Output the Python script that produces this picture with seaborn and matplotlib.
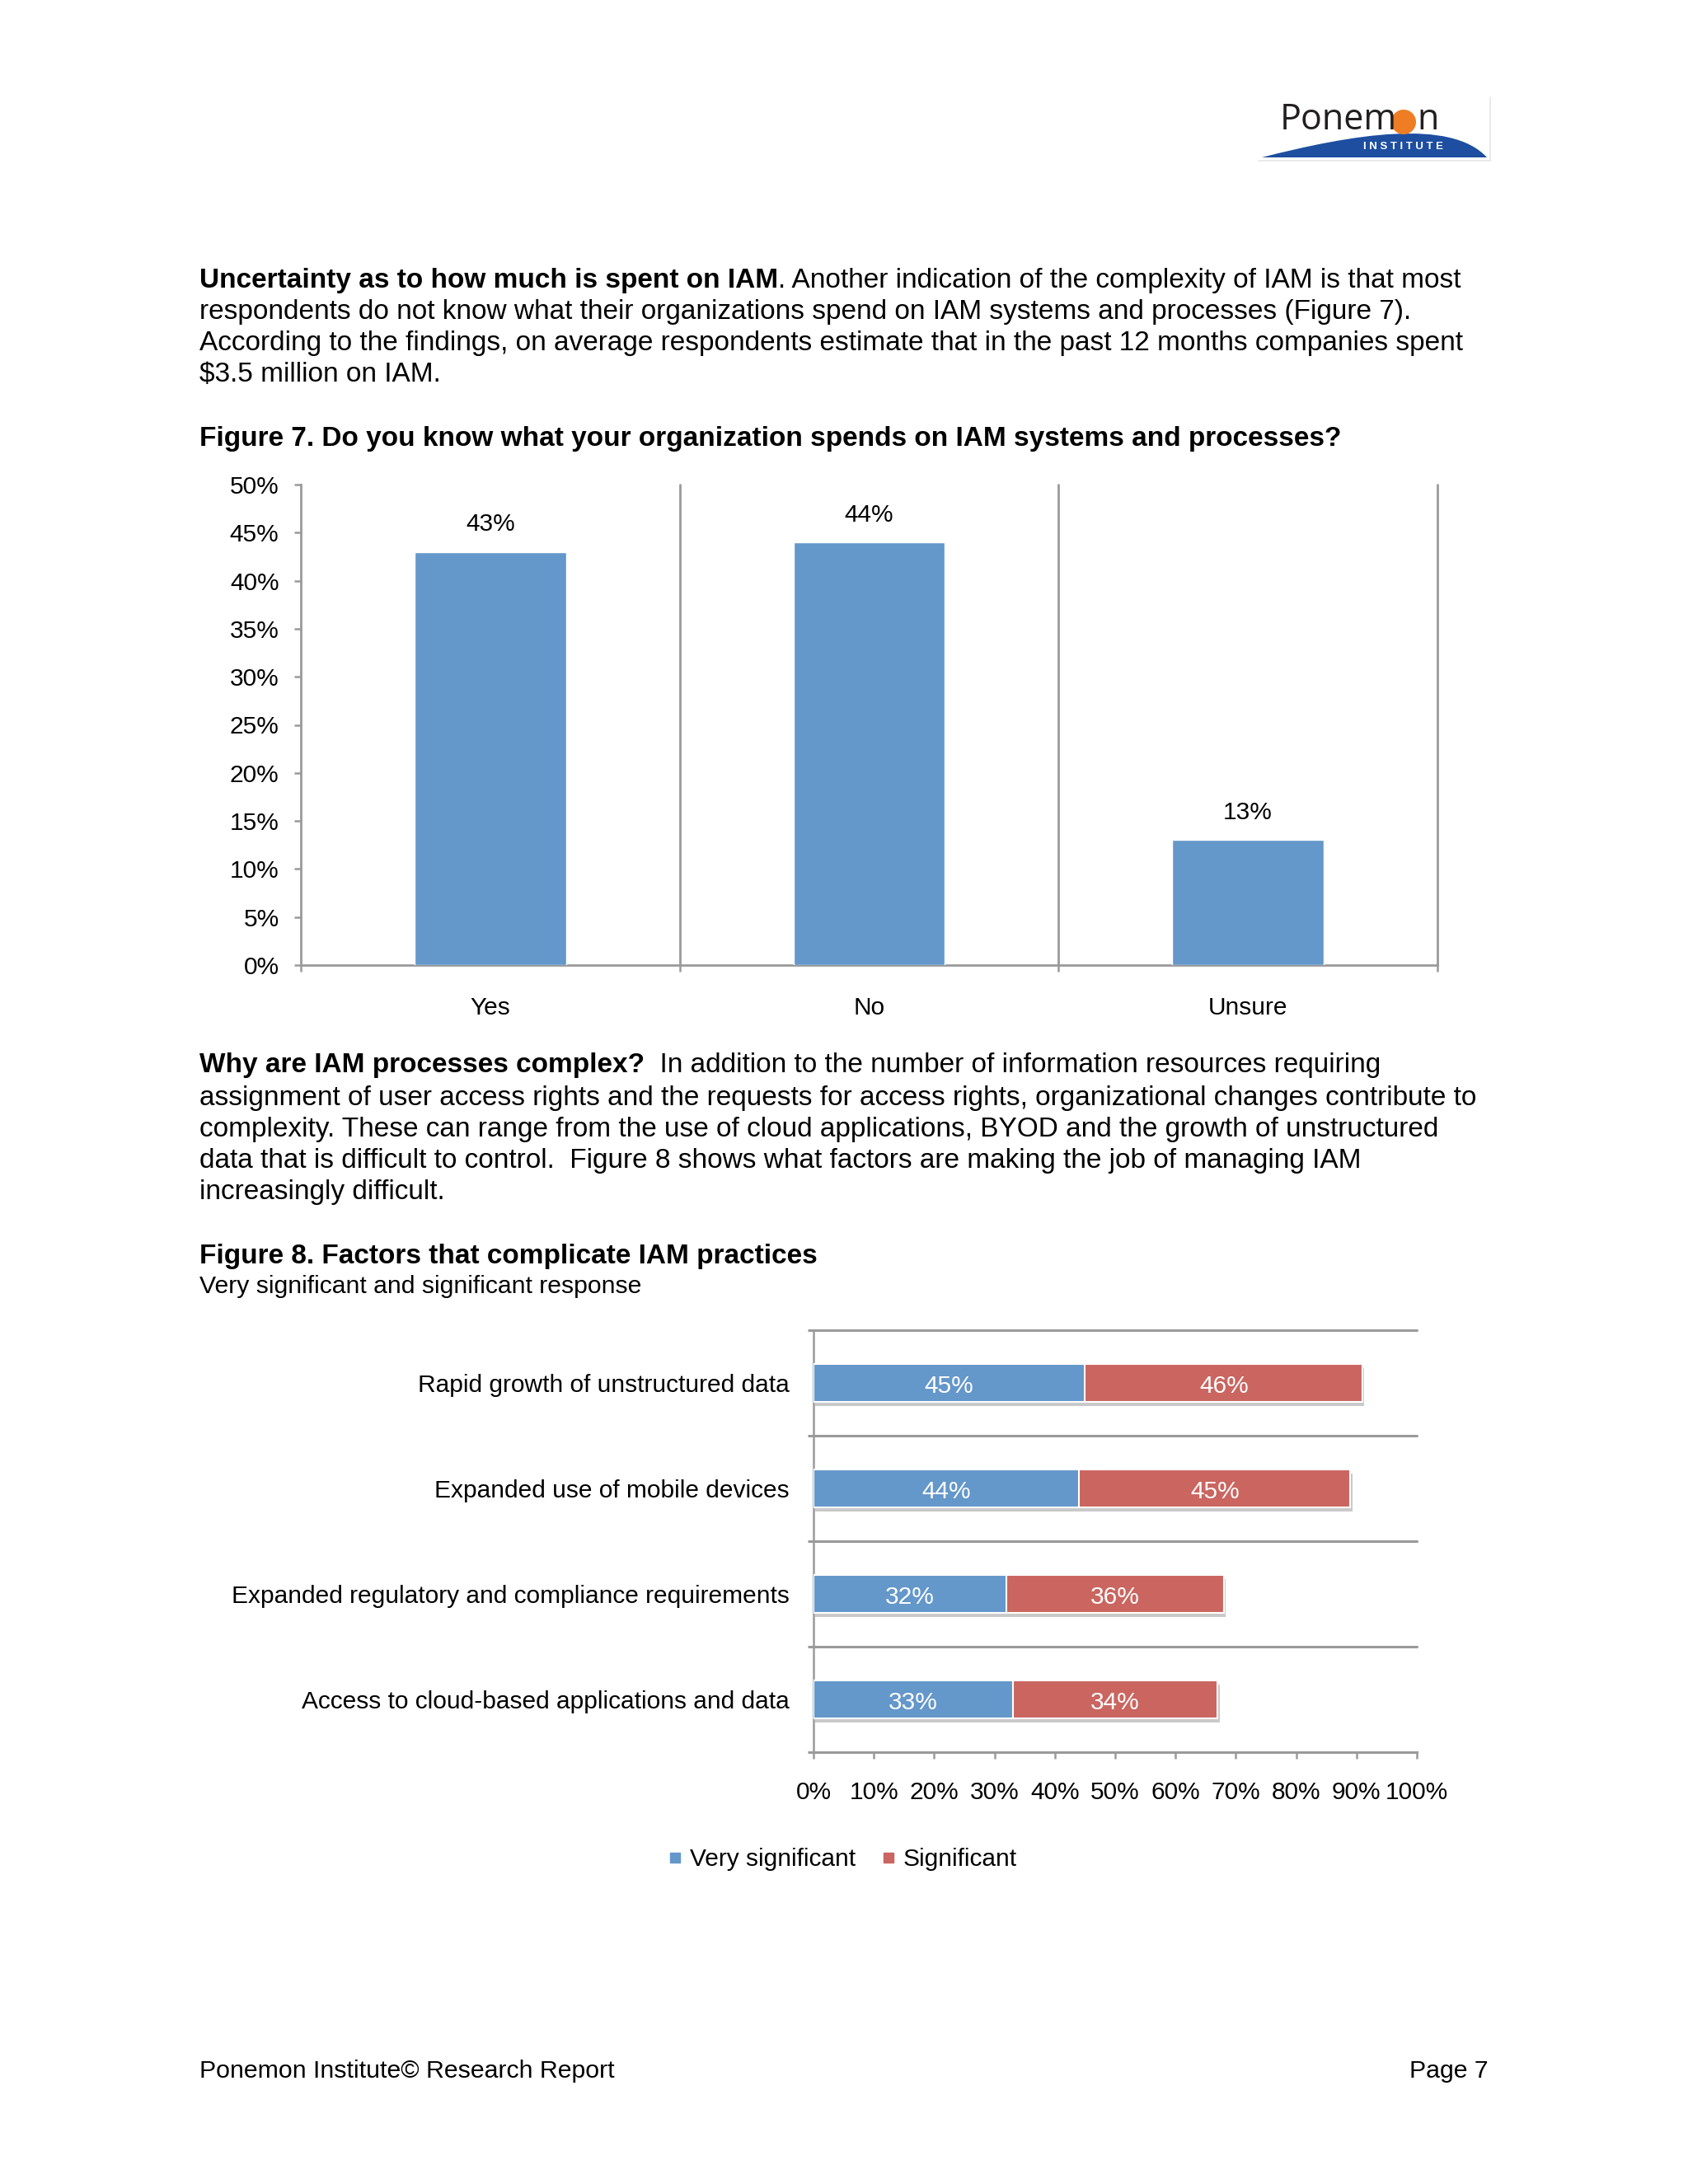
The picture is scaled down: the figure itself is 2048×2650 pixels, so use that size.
import numpy as np
import pandas as pd
import matplotlib
matplotlib.use("Agg")
import matplotlib.pyplot as plt
import matplotlib.patheffects as pe
from matplotlib.path import Path
from matplotlib.patches import PathPatch, Circle
from matplotlib.lines import Line2D
from matplotlib.ticker import FuncFormatter, FixedLocator
import seaborn as sns

# ---- data ----
fig7_categories = ["Yes", "No", "Unsure"]
fig7_values = [43, 44, 13]

fig8_factors = [
    "Rapid growth of unstructured data",
    "Expanded use of mobile devices",
    "Expanded regulatory and compliance requirements",
    "Access to cloud-based applications and data",
]
fig8_very = [45, 44, 32, 33]
fig8_significant = [46, 45, 36, 34]
fig8_series = ["Very significant", "Significant"]

fig7_yticks = list(range(0, 55, 5))
fig8_xticks = list(range(0, 110, 10))

BLUE = "#6497CA"
RED = "#CA6560"
AXIS_GREY = "#9A9A9A"

sns.set_style("white")
plt.rcParams["font.family"] = ["Liberation Sans", "DejaVu Sans"]
plt.rcParams["text.color"] = "black"
plt.rcParams["xtick.labelcolor"] = "black"
plt.rcParams["ytick.labelcolor"] = "black"

W, H = 2048, 2650
fig = plt.figure(figsize=(W / 100, H / 100), dpi=100)
fig.patch.set_facecolor("white")

# page overlay axes in pixel coordinates
page = fig.add_axes([0, 0, 1, 1], zorder=5)
page.set_xlim(0, W)
page.set_ylim(H, 0)
page.axis("off")
page.patch.set_alpha(0)

BODY = 24
LEFT = 242


def mixed_line(y, bold, regular, size=BODY):
    t = page.text(LEFT, y, bold, fontsize=size, fontweight="bold", va="center", ha="left")
    r = fig.canvas.get_renderer()
    x1 = t.get_window_extent(r).x1
    xd = page.transData.inverted().transform((x1, 0))[0]
    page.text(xd, y, regular, fontsize=size, va="center", ha="left")


# ---- logo ----
swoosh = Path(
    [(1531, 191), (1640, 163), (1760, 143), (1804, 191), (1531, 191), (1531, 191)],
    [Path.MOVETO, Path.CURVE4, Path.CURVE4, Path.CURVE4, Path.LINETO, Path.CLOSEPOLY],
)
page.add_patch(PathPatch(swoosh, facecolor="#1D4EA0", edgecolor="none"))
page.add_patch(Circle((1703, 148), 15, facecolor="#EE7D23", edgecolor="none"))
page.text(1553, 157, "Ponem", fontsize=31, family=["Open Sans", "DejaVu Sans"],
          color="#231F20", ha="left", va="baseline")
page.text(1719, 157, "n", fontsize=31, family=["Open Sans", "DejaVu Sans"],
          color="#231F20", ha="left", va="baseline")
page.text(1703, 178, "I N S T I T U T E", fontsize=9.5, color="white",
          ha="center", va="center", fontweight="bold")
page.plot([1808, 1808], [118, 195], color="#E6E6E6", lw=1.2)
page.plot([1527, 1808], [195, 195], color="#E6E6E6", lw=1.2)

# ---- paragraph 1 ----
mixed_line(340, "Uncertainty as to how much is spent on IAM",
           ". Another indication of the complexity of IAM is that most")
page.text(LEFT, 378, "respondents do not know what their organizations spend on IAM systems and processes (Figure 7).",
          fontsize=BODY, va="center")
page.text(LEFT, 416, "According to the findings, on average respondents estimate that in the past 12 months companies spent",
          fontsize=BODY, va="center")
page.text(LEFT, 455, r"\$3.5 million on IAM.", fontsize=BODY, va="center")

page.text(LEFT, 532, "Figure 7. Do you know what your organization spends on IAM systems and processes?",
          fontsize=BODY, fontweight="bold", va="center")

# ---- paragraph 2 ----
mixed_line(1293, "Why are IAM processes complex?",
           "  In addition to the number of information resources requiring")
page.text(LEFT, 1332, "assignment of user access rights and the requests for access rights, organizational changes contribute to",
          fontsize=BODY, va="center")
page.text(LEFT, 1370, "complexity. These can range from the use of cloud applications, BYOD and the growth of unstructured",
          fontsize=BODY, va="center")
page.text(LEFT, 1409, "data that is difficult to control.  Figure 8 shows what factors are making the job of managing IAM",
          fontsize=BODY, va="center")
page.text(LEFT, 1447, "increasingly difficult.", fontsize=BODY, va="center")

page.text(LEFT, 1524, "Figure 8. Factors that complicate IAM practices",
          fontsize=BODY, fontweight="bold", va="center")
page.text(LEFT, 1561, "Very significant and significant response", fontsize=21.7, va="center")

# ---- footer ----
page.text(LEFT, 2513, "Ponemon Institute\u00a9 Research Report", fontsize=21.8, va="center")
page.text(1806, 2513, "Page 7", fontsize=21.8, va="center", ha="right")

CHART = 21.5

# ---- Figure 7 chart ----
ax1 = fig.add_axes([365 / W, 1 - 1171 / H, (1744 - 365) / W, (1171 - 588) / H])
df7 = pd.DataFrame({"answer": fig7_categories, "pct": fig7_values})
sns.barplot(data=df7, x="answer", y="pct", color=BLUE, saturation=1, width=0.4,
            ax=ax1, zorder=3)
ax1.set_xlim(-0.5, 2.5)
ax1.set_ylim(0, 50)
ax1.set_xlabel("")
ax1.set_ylabel("")
ax1.set_yticks(fig7_yticks)
ax1.yaxis.set_major_formatter(FuncFormatter(lambda v, p: f"{int(v)}%"))
ax1.tick_params(axis="y", direction="out", length=6, width=1.8, color=AXIS_GREY,
                labelsize=CHART, pad=13, left=True, labelcolor="black")
ax1.tick_params(axis="x", which="major", length=0, labelsize=CHART, pad=27, labelcolor="black")
ax1.xaxis.set_minor_locator(FixedLocator([-0.5, 0.5, 1.5, 2.5]))
ax1.tick_params(axis="x", which="minor", direction="out", length=6, width=1.8,
                color=AXIS_GREY, bottom=True)
for b in [0.5, 1.5, 2.5]:
    ax1.axvline(b, color=AXIS_GREY, lw=2, zorder=2, clip_on=False)
for s in ["top", "right"]:
    ax1.spines[s].set_visible(False)
for s in ["left", "bottom"]:
    ax1.spines[s].set_color(AXIS_GREY)
    ax1.spines[s].set_linewidth(2)
for i, v in enumerate(fig7_values):
    ax1.annotate(f"{v}%", (i, v), xytext=(0, 24), textcoords="offset points",
                 ha="center", va="center", fontsize=CHART, color="black")

# ---- Figure 8 chart ----
ax2 = fig.add_axes([987 / W, 1 - 2126 / H, (1719 - 987) / W, (2126 - 1614) / H])
df8 = pd.DataFrame({"factor": fig8_factors, "very": fig8_very,
                    "total": np.array(fig8_very) + np.array(fig8_significant)})
shadow = [pe.SimplePatchShadow(offset=(1.5, -3.5), shadow_rgbFace="#666666", alpha=0.35), pe.Normal()]
sns.barplot(data=df8, x="total", y="factor", color=RED, saturation=1, width=0.36,
            orient="h", ax=ax2, edgecolor="white", linewidth=1.5, zorder=3)
sns.barplot(data=df8, x="very", y="factor", color=BLUE, saturation=1, width=0.36,
            orient="h", ax=ax2, edgecolor="white", linewidth=1.5, zorder=4)
n_red = len(fig8_factors)
for k, patch in enumerate(ax2.patches):
    if k < n_red:
        patch.set_path_effects(shadow)
ax2.set_xlim(0, 100)
ax2.set_ylim(3.5, -0.5)
ax2.set_xlabel("")
ax2.set_ylabel("")
ax2.set_xticks(fig8_xticks)
ax2.xaxis.set_major_formatter(FuncFormatter(lambda v, p: f"{int(v)}%"))
ax2.tick_params(axis="x", direction="out", length=6, width=1.8, color=AXIS_GREY,
                labelsize=CHART, pad=19, bottom=True, labelcolor="black")
ax2.tick_params(axis="y", which="major", length=0, labelsize=CHART, pad=21, labelcolor="black")
ax2.yaxis.set_minor_locator(FixedLocator([-0.5, 0.5, 1.5, 2.5, 3.5]))
ax2.tick_params(axis="y", which="minor", direction="out", length=5, width=2.2,
                color=AXIS_GREY, left=True)
for b in [-0.5, 0.5, 1.5, 2.5]:
    ax2.axhline(b, color=AXIS_GREY, lw=2.2, zorder=2, clip_on=False)
for s in ["top", "right"]:
    ax2.spines[s].set_visible(False)
ax2.spines["left"].set_color(AXIS_GREY)
ax2.spines["left"].set_linewidth(1.8)
ax2.spines["bottom"].set_color(AXIS_GREY)
ax2.spines["bottom"].set_linewidth(2.2)
for i in range(len(fig8_factors)):
    v, s = fig8_very[i], fig8_significant[i]
    ax2.text(v / 2, i + 0.03, f"{v}%", color="white", ha="center", va="center", fontsize=CHART, zorder=6)
    ax2.text(v + s / 2, i + 0.03, f"{s}%", color="white", ha="center", va="center", fontsize=CHART, zorder=6)

handles = [Line2D([], [], marker="s", linestyle="none", markersize=8.5, color=c)
           for c in [BLUE, RED]]
fig.legend(handles, fig8_series, loc="center", bbox_to_anchor=(1022 / W, 1 - 2256 / H),
           ncol=2, frameon=False, fontsize=CHART, handlelength=0.6, handletextpad=0.3,
           columnspacing=1.05, labelcolor="black")

fig.savefig("out.png", dpi=100, facecolor="white")
